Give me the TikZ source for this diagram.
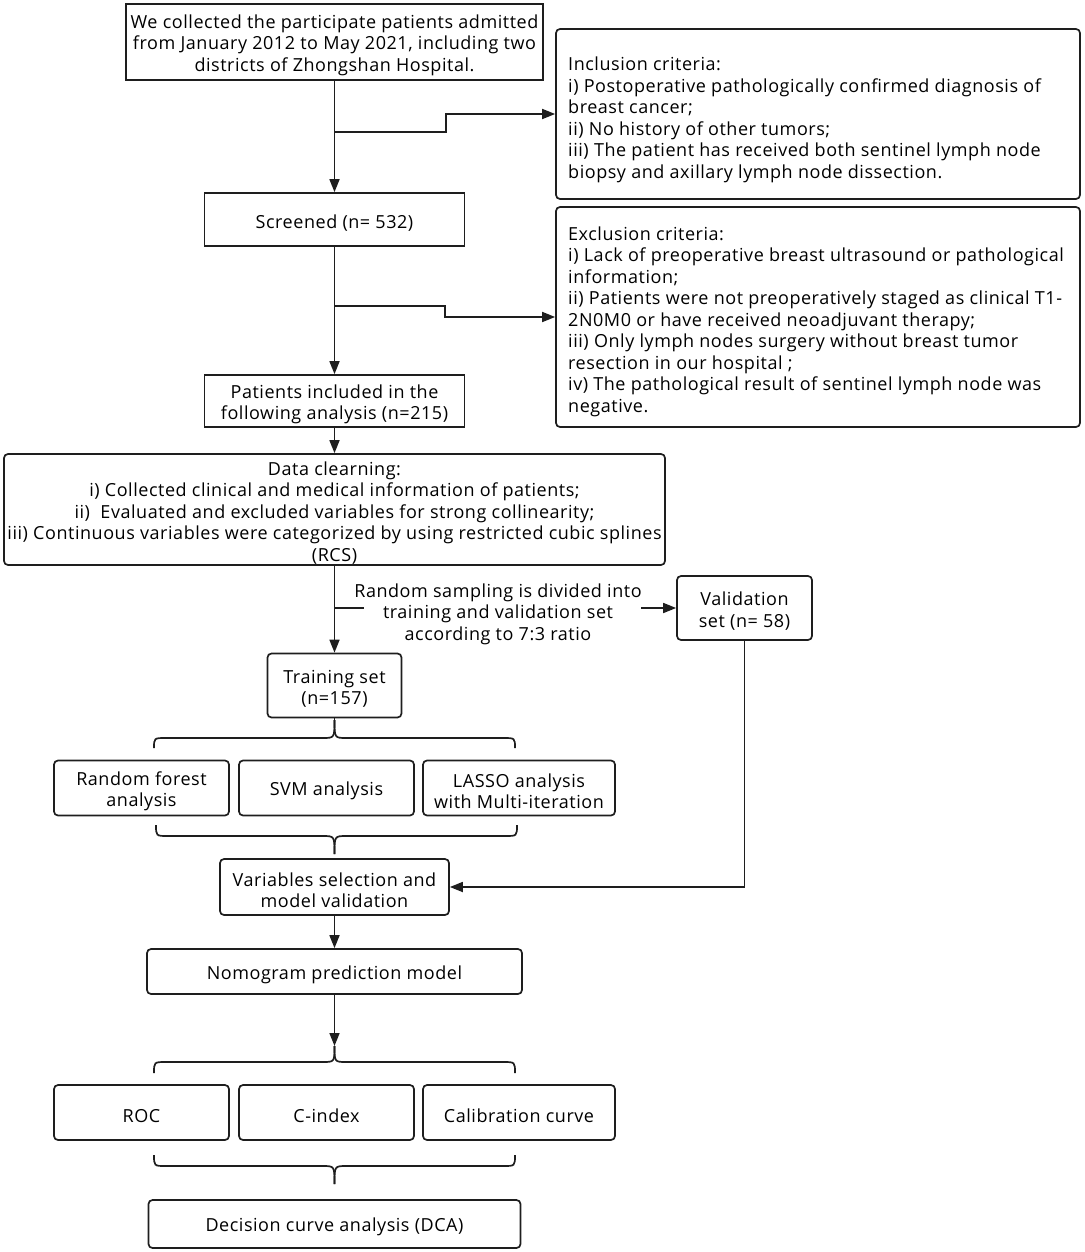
\documentclass[tikz,border=0pt]{standalone}
\usepackage{fontspec}
\setmainfont{Open Sans}[LetterSpace=3]
\usetikzlibrary{arrows.meta}
\definecolor{ln}{HTML}{1E1E1E}
\newcommand\lowerfirst{\rule{0pt}{20pt}}
\begin{document}
\begin{tikzpicture}[x=1pt,y=-1pt,
  every node/.style={font=\fontsize{18}{21.5}\selectfont, text=black,
    execute at begin node={\rule{0pt}{20pt}}},
  sbox/.style={draw=ln, line width=1.7pt, inner sep=0pt, align=center},
  rbox/.style={sbox, rounded corners=4pt},
  arr/.style={draw=ln, line width=1.7pt, -{Triangle[length=13pt,width=10pt]}},
  con/.style={draw=ln, line width=1.7pt},
  brc/.style={draw=ln, line width=1.7pt}]
\useasboundingbox (0,0) rectangle (1084,1252);

% main column
\node[sbox, minimum width=417pt, minimum height=76pt] (b1) at (334.5,42)
  {\lowerfirst We collected the participate patients admitted\\from January 2012 to May 2021, including two\\districts of Zhongshan Hospital.};
\node[sbox, minimum width=260pt, minimum height=53pt] (scr) at (334.5,219.5) {Screened (n= 532)};
\node[sbox, minimum width=260pt, minimum height=52pt] (pat) at (334.5,401)
  {\lowerfirst Patients included in the\\following analysis (n=215)};
\node[rbox, minimum width=661pt, minimum height=111pt] (data) at (334.5,509.5)
  {\lowerfirst Data clearning:\\i) Collected clinical and medical information of patients;\\ii)\ \ Evaluated and excluded variables for strong collinearity;\\iii) Continuous variables were categorized by using restricted cubic splines\\(RCS)};
\node[rbox, minimum width=134pt, minimum height=64pt] (train) at (334.5,685.5) {\lowerfirst Training set\\(n=157)};
\node[rbox, minimum width=135pt, minimum height=64pt] (val) at (744.5,608) {\lowerfirst Validation\\set (n= 58)};
\node (samp) at (498,611) [align=center] {\lowerfirst Random sampling is divided into\\training and validation set\\according to 7:3 ratio};

% criteria boxes
\node[rbox, minimum width=524pt, minimum height=170pt] (incl) at (818,114) {};
\node[anchor=west, align=left, inner sep=0pt] (inclt) at (568,116.5)
  {\lowerfirst Inclusion criteria:\\i) Postoperative pathologically confirmed diagnosis of\\breast cancer;\\ii) No history of other tumors;\\iii) The patient has received both sentinel lymph node\\biopsy and axillary lymph node dissection.};
\node[rbox, minimum width=524pt, minimum height=220pt] (excl) at (818,317) {};
\node[anchor=west, align=left, inner sep=0pt] (exclt) at (568,318.5)
  {\lowerfirst Exclusion criteria:\\i) Lack of preoperative breast ultrasound or pathological\\information;\\ii) Patients were not preoperatively staged as clinical T1-\\2N0M0 or have received neoadjuvant therapy;\\iii) Only lymph nodes surgery without breast tumor\\resection in our hospital ;\\iv) The pathological result of sentinel lymph node was\\negative.};

% method row
\node[rbox, minimum width=175pt, minimum height=55pt] (rf) at (141.5,788) {\lowerfirst Random forest\\analysis};
\node[rbox, minimum width=175pt, minimum height=55pt] (svm) at (326.5,788) {SVM analysis};
\node[rbox, minimum width=192pt, minimum height=55pt] (lasso) at (519,788) {\lowerfirst LASSO analysis\\with Multi-iteration};
\node[rbox, minimum width=229pt, minimum height=56pt] (var) at (334.5,887) {\lowerfirst Variables selection and\\model validation};
\node[rbox, minimum width=375pt, minimum height=45pt] (nomo) at (334.5,971.5) {Nomogram prediction model};

% evaluation row
\node[rbox, minimum width=175pt, minimum height=55pt] (roc) at (141.5,1112.5) {ROC};
\node[rbox, minimum width=175pt, minimum height=55pt] (cidx) at (326.5,1112.5) {C-index};
\node[rbox, minimum width=192pt, minimum height=55pt] (calib) at (519,1112.5) {Calibration curve};
\node[rbox, minimum width=372pt, minimum height=48pt] (dca) at (334.5,1224) {Decision curve analysis (DCA)};

% junctions
\coordinate (j1) at (334.5,132);
\coordinate (j2) at (334.5,306);
\coordinate (j3) at (334.5,608);
\coordinate (j3e) at (364,608);
\coordinate (a3) at (641,608);
\coordinate (t1) at (334.5,720);
\coordinate (t2) at (334.5,854);
\coordinate (t3) at (334.5,1046);
\coordinate (t4) at (334.5,1184);

% connectors
\draw[arr] (b1) -- (scr);
\draw[arr] (j1) -- (446,132) |- (incl.west);
\draw[arr] (scr) -- (pat);
\draw[arr] (j2) -- (445,306) |- (excl.west);
\draw[arr] (pat) -- (data);
\draw[arr] (data) -- (train);
\draw[con] (j3) -- (j3e);
\draw[arr] (a3) -- (val);
\draw[con] (train.south) -- (t1);
\draw[arr] (val.south) |- (var.east);
\draw[arr] (var) -- (nomo);
\draw[arr] (nomo.south) -- (t3);

% braces
\draw[brc] (154,748) .. controls (154,738) .. (166,738) -- (322.5,738) .. controls (334.5,738) .. (t1);
\draw[brc] (515,748) .. controls (515,738) .. (503,738) -- (346.5,738) .. controls (334.5,738) .. (t1);
\draw[brc] (156,825) .. controls (156,836) .. (168,836) -- (322.5,836) .. controls (334.5,836) .. (t2);
\draw[brc] (517,825) .. controls (517,836) .. (505,836) -- (346.5,836) .. controls (334.5,836) .. (t2);
\draw[brc] (154,1073) .. controls (154,1062) .. (166,1062) -- (322.5,1062) .. controls (334.5,1062) .. (t3);
\draw[brc] (515,1073) .. controls (515,1062) .. (503,1062) -- (346.5,1062) .. controls (334.5,1062) .. (t3);
\draw[brc] (154,1155) .. controls (154,1166) .. (166,1166) -- (322.5,1166) .. controls (334.5,1166) .. (t4);
\draw[brc] (515,1155) .. controls (515,1166) .. (503,1166) -- (346.5,1166) .. controls (334.5,1166) .. (t4);
\end{tikzpicture}
\end{document}
